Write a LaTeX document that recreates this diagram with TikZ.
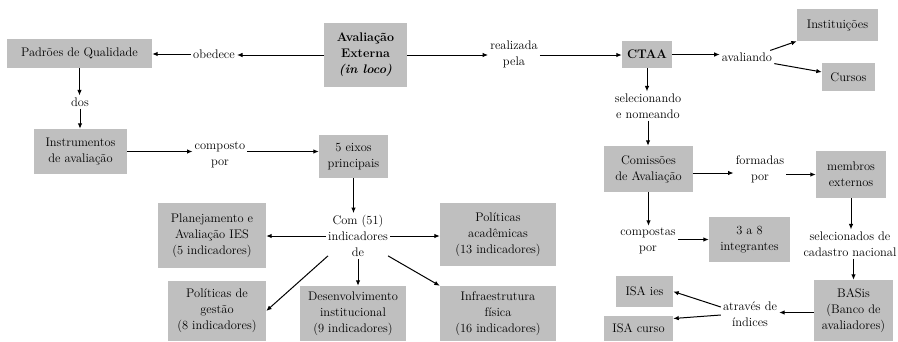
\documentclass[tikz,border=0pt]{standalone}
\usetikzlibrary{arrows.meta}
\begin{document}
\begin{tikzpicture}[x=1bp,y=-1bp,
  font=\fontsize{12.5}{16}\selectfont,
  box/.style={fill=black!25, align=center, inner sep=0pt},
  lbl/.style={align=center, inner sep=2bp},
  arr/.style={-{Latex[length=5.5bp,width=4.5bp]}, line width=1bp}]
\useasboundingbox (0,0) rectangle (898,341);
% boxes
\node[box, minimum width=145bp, minimum height=29bp] (padroes) at (79.5,53.5) {Padrões de Qualidade};
\node[box, minimum width=83bp, minimum height=64bp] (aval) at (365.5,55) {\textbf{Avaliação}\\\textbf{Externa}\\\textbf{\textit{(in loco)}}};
\node[box, minimum width=50bp, minimum height=27bp] (ctaa) at (647,54.5) {\textbf{CTAA}};
\node[box, minimum width=81bp, minimum height=32bp] (inst) at (837.5,25) {Instituições};
\node[box, minimum width=53bp, minimum height=28bp] (cursos) at (848.5,77) {Cursos};
\node[box, minimum width=93bp, minimum height=45bp] (instr) at (80.5,151.5) {Instrumentos\\de avaliação};
\node[box, minimum width=69bp, minimum height=43bp] (eixos) at (353.5,156.5) {5 eixos\\principais};
\node[box, minimum width=89bp, minimum height=46bp] (com) at (648.5,169) {Comissões\\de Avaliação};
\node[box, minimum width=70bp, minimum height=47bp] (membros) at (851,174.5) {membros\\externos};
\node[box, minimum width=81bp, minimum height=45bp] (tres) at (749.5,239.5) {3 a 8\\integrantes};
\node[box, minimum width=79bp, minimum height=61bp] (basis) at (853.5,310.5) {BASis\\(Banco de\\avaliadores)};
\node[box, minimum width=57bp, minimum height=31bp] (isaies) at (644.5,291.5) {ISA ies};
\node[box, minimum width=69bp, minimum height=25bp] (isacurso) at (638.5,328.5) {ISA curso};
\node[box, minimum width=108bp, minimum height=65bp] (plan) at (212,235.5) {Planejamento e\\Avaliação IES\\(5 indicadores)};
\node[box, minimum width=116bp, minimum height=63bp] (polac) at (498,234.5) {Políticas\\acadêmicas\\(13 indicadores)};
\node[box, minimum width=98bp, minimum height=60bp] (gestao) at (217,311) {Políticas de\\gestão\\(8 indicadores)};
\node[box, minimum width=106bp, minimum height=55bp] (desenv) at (353,313.5) {Desenvolvimento\\institucional\\(9 indicadores)};
\node[box, minimum width=116bp, minimum height=55bp] (infra) at (498,313.5) {Infraestrutura\\física\\(16 indicadores)};
% labels
\node[lbl] (obedece) at (214,54) {obedece};
\node[lbl] (dos) at (80,102) {dos};
\node[lbl] (composto) at (220,155) {composto\\por};
\node[lbl] (realizada) at (514,54) {realizada\\pela};
\node[lbl] (avaliando) at (747,57) {avaliando};
\node[lbl] (sel) at (648,106) {selecionando\\e nomeando};
\node[lbl] (formadas) at (760,169) {formadas\\por};
\node[lbl] (compostas) at (648,241) {compostas\\por};
\node[lbl] (sel2) at (850,244) {selecionados de\\cadastro nacional};
\node[lbl] (atraves) at (750,314) {através de\\índices};
\node[lbl] (com51) at (358,236) {Com (51)\\indicadores\\de};
% connectors
\draw[arr] (aval.west) -- (aval.west -| obedece.east);
\draw[arr] (obedece.west) -- (obedece.west -| padroes.east);
\draw[arr] (padroes.south) -- (padroes.south |- dos.north);
\draw[arr] (dos.south) -- (dos.south |- instr.north);
\draw[arr] (instr.east) -- (instr.east -| composto.west);
\draw[arr] (composto.east |- instr.east) -- (eixos.west |- instr.east);
\draw[arr] (aval.east) -- (aval.east -| realizada.west);
\draw[arr] (realizada.east |- aval.east) -- (ctaa.west |- aval.east);
\draw[arr] (ctaa.east) -- (ctaa.east -| avaliando.west);
\draw[arr] ([xshift=-4bp]avaliando.north east) -- (inst.south west);
\draw[arr] (avaliando.south east) -- ([yshift=5bp]cursos.west);
\draw[arr] (ctaa.south) -- (ctaa.south |- sel.north);
\draw[arr] (sel.south) -- (sel.south |- com.north);
\draw[arr] ([yshift=-4bp]com.east) -- ([yshift=-4bp]com.east -| formadas.west);
\draw[arr] (formadas.east |- membros.west) -- (membros.west);
\draw[arr] (com.south) -- (com.south |- compostas.north);
\draw[arr] (compostas.east |- tres.west) -- (tres.west);
\draw[arr] (membros.south) -- (membros.south |- sel2.north);
\draw[arr] (basis.north |- sel2.south) -- (basis.north);
\draw[arr] ([yshift=-2bp]basis.west) -- ([yshift=-2bp]basis.west -| atraves.east);
\draw[arr] ([yshift=7bp]atraves.west) -- (isaies.east);
\draw[arr] ([yshift=-1bp]atraves.west) -- ([yshift=10bp]isacurso.east);
\draw[arr] (eixos.south) -- (eixos.south |- com51.north);
\draw[arr] (com51.west) -- (com51.west -| plan.east);
\draw[arr] (com51.east) -- (com51.east -| polac.west);
\draw[arr] ([xshift=2bp,yshift=3bp]com51.south west) -- (gestao.east);
\draw[arr] (com51.south) -- (com51.south |- desenv.north);
\draw[arr] ([xshift=-2bp,yshift=3bp]com51.south east) -- (infra.north west);
\end{tikzpicture}
\end{document}
